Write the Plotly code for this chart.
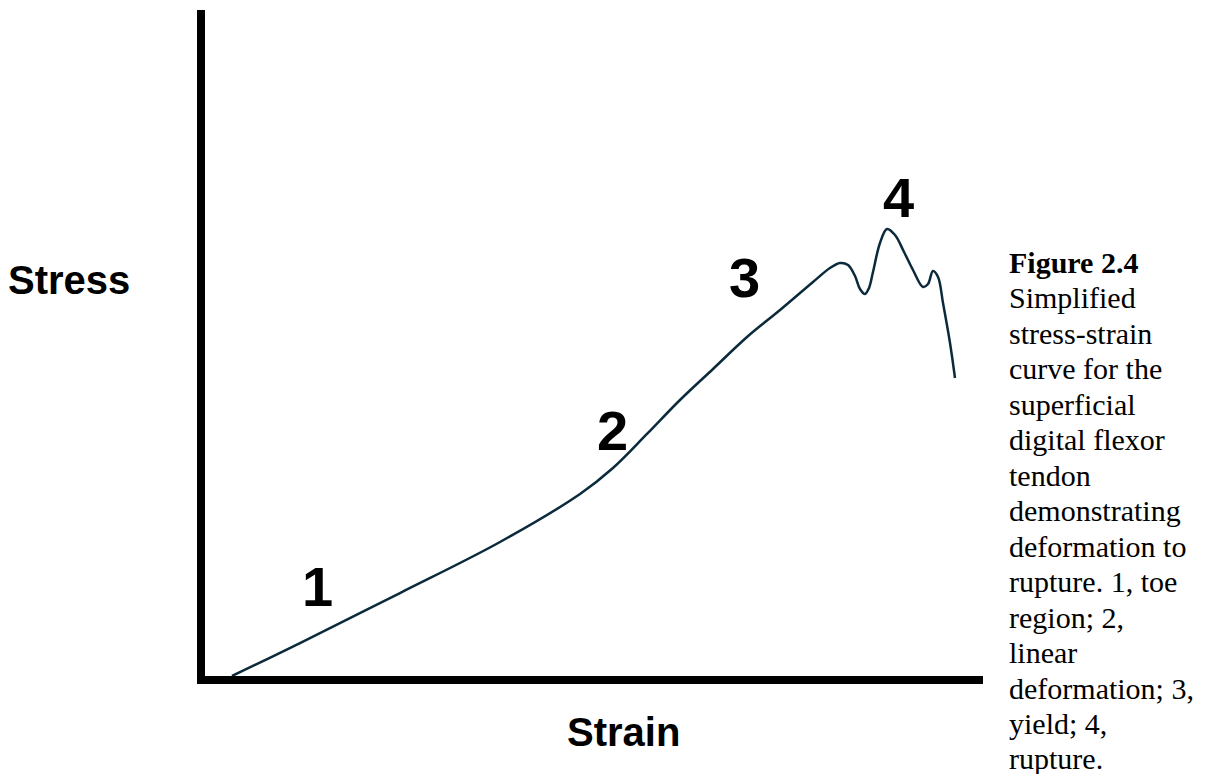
import plotly.graph_objects as go

# Stress-strain curve (arbitrary units)
strain = [3.47, 12.21, 25.06, 37.92, 48.20, 52.44, 56.81, 61.05, 65.30, 69.67, 73.91,
          78.15, 80.33, 81.62, 82.65, 83.55, 84.19, 84.83, 85.35, 85.86, 86.76, 87.66, 88.69,
          89.85, 91.00, 92.29, 92.93, 93.57, 94.22, 94.86, 95.76, 96.40]
stress = [0.0, 4.95, 12.46, 20.12, 27.33, 31.23, 36.34, 41.44, 46.10, 50.90, 54.95,
          59.16, 61.26, 62.01, 61.71, 60.06, 58.11, 57.36, 58.26, 60.66, 65.02, 67.12, 66.22,
          63.66, 60.96, 58.41, 58.86, 60.81, 59.91, 56.01, 50.00, 44.74]

# Region labels
region_labels = ["1", "2", "3", "4"]
region_x = [14.4, 52.4, 69.4, 89.1]
region_y = [13.4, 36.9, 59.8, 71.9]

x_label = "Strain"
y_label = "Stress"

caption_lines = [
    "<b>Figure 2.4</b>",
    "Simplified",
    "stress-strain",
    "curve for the",
    "superficial",
    "digital flexor",
    "tendon",
    "demonstrating",
    "deformation to",
    "rupture. 1, toe",
    "region; 2,",
    "linear",
    "deformation; 3,",
    "yield; 4,",
    "rupture.",
]

W, H = 1217, 774
L, R, T, B = 205, 234, 10, 98
PW, PH = W - L - R, H - T - B


def px_to_paper(px, py):
    return (px - L) / PW, (H - B - py) / PH


fig = go.Figure()
fig.add_trace(go.Scatter(
    x=strain, y=stress, mode="lines",
    line=dict(color="#0b2a3c", width=2.5, shape="spline", smoothing=1.0),
    hoverinfo="skip", showlegend=False,
))

annotations = []
for t, xv, yv in zip(region_labels, region_x, region_y):
    annotations.append(dict(
        x=xv, y=yv, xref="x", yref="y", text=f"<b>{t}</b>", showarrow=False,
        font=dict(family="Liberation Sans", size=56, color="black"),
        xanchor="center", yanchor="middle",
    ))

ax_, ay_ = px_to_paper(623, 732)
annotations.append(dict(
    x=ax_, y=ay_, xref="paper", yref="paper", text=f"<b>{x_label}</b>", showarrow=False,
    font=dict(family="Liberation Sans", size=40, color="black"),
    xanchor="center", yanchor="middle",
))
sx, sy = px_to_paper(69, 280)
annotations.append(dict(
    x=sx, y=sy, xref="paper", yref="paper", text=f"<b>{y_label}</b>", showarrow=False,
    font=dict(family="Liberation Sans", size=40, color="black"),
    xanchor="center", yanchor="middle",
))

for i, line in enumerate(caption_lines):
    cx, cy = px_to_paper(1007, 262 + i * 35.5)
    annotations.append(dict(
        x=cx, y=cy, xref="paper", yref="paper", text=line, showarrow=False,
        font=dict(family="Liberation Serif", size=30, color="black"),
        xanchor="left", yanchor="middle", align="left",
    ))

axis_common = dict(
    showline=True, linewidth=8, linecolor="black",
    showgrid=False, zeroline=False, showticklabels=False, ticks="",
    range=[0, 100], fixedrange=True,
)

fig.update_layout(
    width=W, height=H,
    margin=dict(l=L, r=R, t=T, b=B),
    paper_bgcolor="white", plot_bgcolor="white",
    xaxis=axis_common, yaxis=axis_common,
    annotations=annotations,
    showlegend=False,
)

fig.write_html(
    "out.html",
    config={"displayModeBar": False},
    post_script="document.body.style.margin='0';document.body.style.overflow='hidden';",
)
